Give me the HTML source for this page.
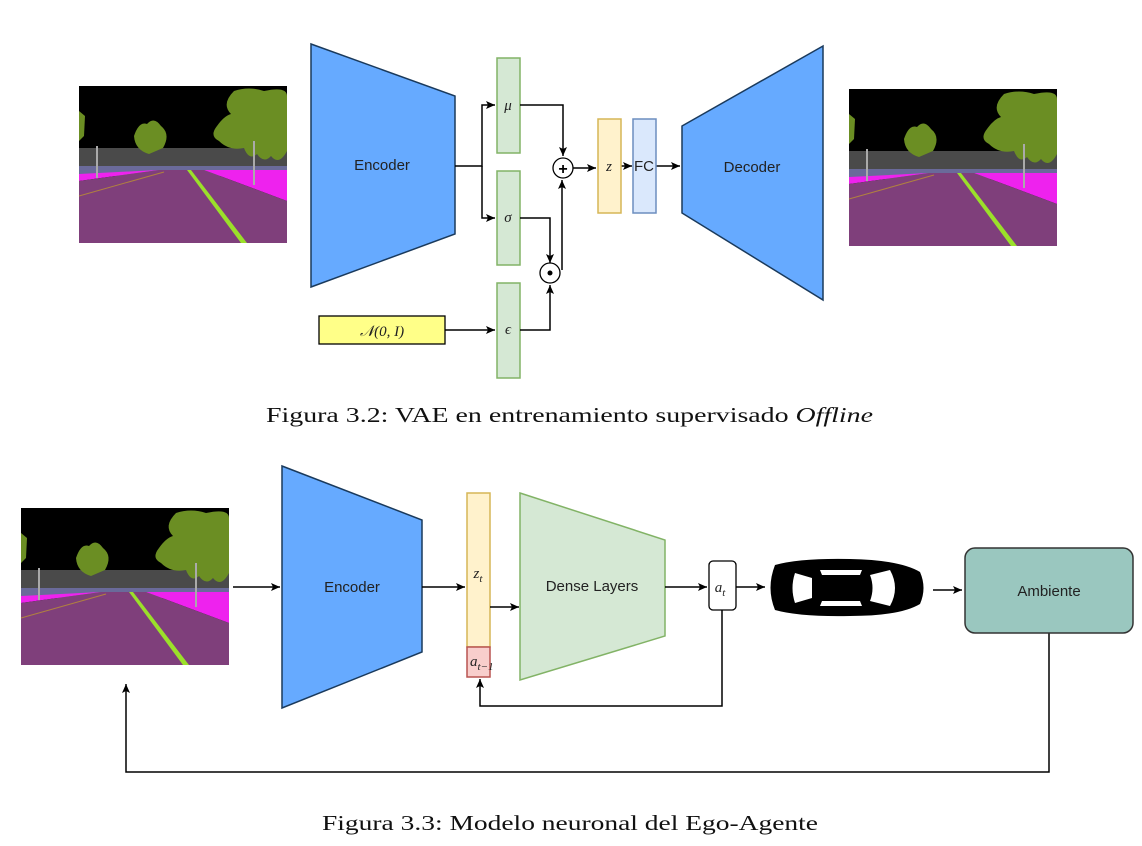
<!DOCTYPE html>
<html><head><meta charset="utf-8"><style>
html,body{margin:0;padding:0;background:#fff;}
svg{display:block;}
.s{font-family:"Liberation Sans",sans-serif;font-size:15px;fill:#222;}
.m{font-family:"Liberation Serif",serif;font-style:italic;font-size:15px;fill:#222;}
.c{font-family:"Liberation Serif",serif;font-size:21px;fill:#111;}
</style></head><body>
<svg width="1142" height="846" viewBox="0 0 1142 846" xmlns="http://www.w3.org/2000/svg">
<defs>
<marker id="a" markerWidth="10" markerHeight="10" refX="9" refY="5" orient="auto" markerUnits="userSpaceOnUse">
<path d="M0,1 L9,5 L0,9 L2,5 Z" fill="#000"/></marker>
<g id="scene">
<rect x="0" y="0" width="208" height="157" fill="#000"/>
<rect x="0" y="62" width="208" height="20" fill="#4a4a4a"/>
<rect x="0" y="80" width="208" height="10" fill="#6a6a9a"/>
<polygon points="0,88 80,84 0,95" fill="#ee22ee"/>
<polygon points="125,84 208,84 208,115" fill="#ee22ee"/>
<polygon points="0,95 80,84 125,84 208,115 208,157 0,157" fill="#7f3f7b"/>
<polygon points="108,84 112,84 168,157 162,157" fill="#9be02a"/>
<line x1="0" y1="110" x2="85" y2="86" stroke="#b08040" stroke-width="1"/>
<path d="M155,5 Q170,0 185,5 Q208,0 208,10 L208,65 Q200,80 192,70 Q185,78 178,68 Q170,75 165,62 Q150,65 140,55 Q130,50 138,40 Q145,30 152,28 Q142,18 155,5 Z" fill="#6b8e23"/>
<path d="M55,50 Q60,35 68,38 Q75,30 82,40 Q92,48 84,62 L70,68 Q56,64 55,50 Z" fill="#6b8e23"/>
<path d="M0,25 L6,30 L5,50 L0,55 Z" fill="#6b8e23"/>
<line x1="18" y1="60" x2="18" y2="92" stroke="#aaa" stroke-width="2"/>
<line x1="175" y1="55" x2="175" y2="99" stroke="#aaa" stroke-width="2"/>
</g>
</defs>
<rect width="1142" height="846" fill="#fff"/>
<!-- Top -->
<use href="#scene" x="79" y="86"/>
<use href="#scene" x="849" y="89"/>
<polygon points="311,44 455,96 455,234 311,287" fill="#66aaff" stroke="#1a3a5c" stroke-width="1.5"/>
<text x="382" y="170" class="s" text-anchor="middle">Encoder</text>
<g fill="#d5e8d4" stroke="#82b366" stroke-width="1.5">
<rect x="497" y="58" width="23" height="95"/>
<rect x="497" y="171" width="23" height="94"/>
<rect x="497" y="283" width="23" height="95"/>
</g>
<text x="508" y="110" class="m" text-anchor="middle">μ</text>
<text x="508" y="222" class="m" text-anchor="middle">σ</text>
<text x="508" y="334" class="m" text-anchor="middle">ϵ</text>
<g fill="none" stroke="#000" stroke-width="1.5">
<path d="M455,166 H482 V105 H495" marker-end="url(#a)"/>
<path d="M482,166 V218 H495" marker-end="url(#a)"/>
<path d="M520,105 H563 V156" marker-end="url(#a)"/>
<path d="M520,218 H550 V263" marker-end="url(#a)"/>
<path d="M520,330 H550 V285" marker-end="url(#a)"/>
<path d="M562,270 V180" marker-end="url(#a)"/>
<path d="M573,168 H596" marker-end="url(#a)"/>
<path d="M621,166 H632" marker-end="url(#a)"/>
<path d="M656,166 H680" marker-end="url(#a)"/>
<path d="M445,330 H495" marker-end="url(#a)"/>
</g>
<circle cx="563" cy="168" r="10" fill="#fff" stroke="#000" stroke-width="1.3"/>
<text x="563" y="174" font-family="Liberation Sans" font-size="16" font-weight="bold" text-anchor="middle">+</text>
<circle cx="550" cy="273" r="10" fill="#fff" stroke="#000" stroke-width="1.3"/>
<circle cx="550" cy="273" r="2.5" fill="#000"/>
<rect x="598" y="119" width="23" height="94" fill="#fff2cc" stroke="#d6b656" stroke-width="1.5"/>
<text x="609" y="171" class="m" text-anchor="middle">z</text>
<rect x="633" y="119" width="23" height="94" fill="#dae8fc" stroke="#6c8ebf" stroke-width="1.5"/>
<text x="644" y="171" class="s" text-anchor="middle">FC</text>
<polygon points="682,126 823,46 823,300 682,213" fill="#66aaff" stroke="#1a3a5c" stroke-width="1.5"/>
<text x="752" y="172" class="s" text-anchor="middle">Decoder</text>
<rect x="319" y="316" width="126" height="28" fill="#ffff88" stroke="#000" stroke-width="1.3"/>
<text x="382" y="336" class="m" text-anchor="middle" font-size="17">𝒩(0, I)</text>
<text x="266" y="422" class="c" textLength="607" lengthAdjust="spacingAndGlyphs">Figura 3.2: VAE en entrenamiento supervisado <tspan font-style="italic">Offline</tspan></text>
<!-- Bottom -->
<use href="#scene" x="21" y="508"/>
<polygon points="282,466 422,520 422,652 282,708" fill="#66aaff" stroke="#1a3a5c" stroke-width="1.5"/>
<text x="352" y="592" class="s" text-anchor="middle">Encoder</text>
<rect x="467" y="493" width="23" height="154" fill="#fff2cc" stroke="#d6b656" stroke-width="1.5"/>
<text x="478" y="578" class="m" text-anchor="middle">z<tspan font-size="11" dy="4">t</tspan></text>
<rect x="467" y="647" width="23" height="30" fill="#f8cecc" stroke="#b85450" stroke-width="1.5"/>
<text x="470" y="666" class="m">a<tspan font-size="11" dy="4">t−1</tspan></text>
<polygon points="520,493 665,540 665,636 520,680" fill="#d5e8d4" stroke="#82b366" stroke-width="1.5"/>
<text x="592" y="591" class="s" text-anchor="middle">Dense Layers</text>
<rect x="709" y="561" width="27" height="49" rx="4" fill="#fff" stroke="#000" stroke-width="1.3"/>
<text x="720" y="592" class="m" text-anchor="middle">a<tspan font-size="11" dy="4">t</tspan></text>
<g fill="none" stroke="#000" stroke-width="1.5">
<path d="M233,587 H280" marker-end="url(#a)"/>
<path d="M422,587 H465" marker-end="url(#a)"/>
<path d="M490,607 H519" marker-end="url(#a)"/>
<path d="M665,587 H707" marker-end="url(#a)"/>
<path d="M736,587 H765" marker-end="url(#a)"/>
<path d="M933,590 H962" marker-end="url(#a)"/>
<path d="M722,610 V706 H480 V679" marker-end="url(#a)"/>
<path d="M1049,633 V772 H126 V684" marker-end="url(#a)"/>
</g>
<!-- car -->
<path d="M775,565 Q800,558 850,559 Q900,560 920,572 Q927,588 920,604 Q900,616 850,616 Q800,617 775,610 Q766,588 775,565 Z" fill="#000"/>
<path d="M795,573 L812,578 L812,598 L795,603 Q790,588 795,573 Z" fill="#fff"/>
<path d="M870,575 L890,570 Q900,588 890,606 L870,601 Q875,588 870,575 Z" fill="#fff"/>
<path d="M820,570 L862,570 L860,575 L822,575 Z" fill="#fff"/>
<path d="M820,606 L862,606 L860,601 L822,601 Z" fill="#fff"/>
<rect x="965" y="548" width="168" height="85" rx="10" fill="#9ac7bf" stroke="#333" stroke-width="1.5"/>
<text x="1049" y="596" class="s" text-anchor="middle">Ambiente</text>
<text x="322" y="830" class="c" textLength="496" lengthAdjust="spacingAndGlyphs">Figura 3.3: Modelo neuronal del Ego-Agente</text>
</svg>
</body></html>
